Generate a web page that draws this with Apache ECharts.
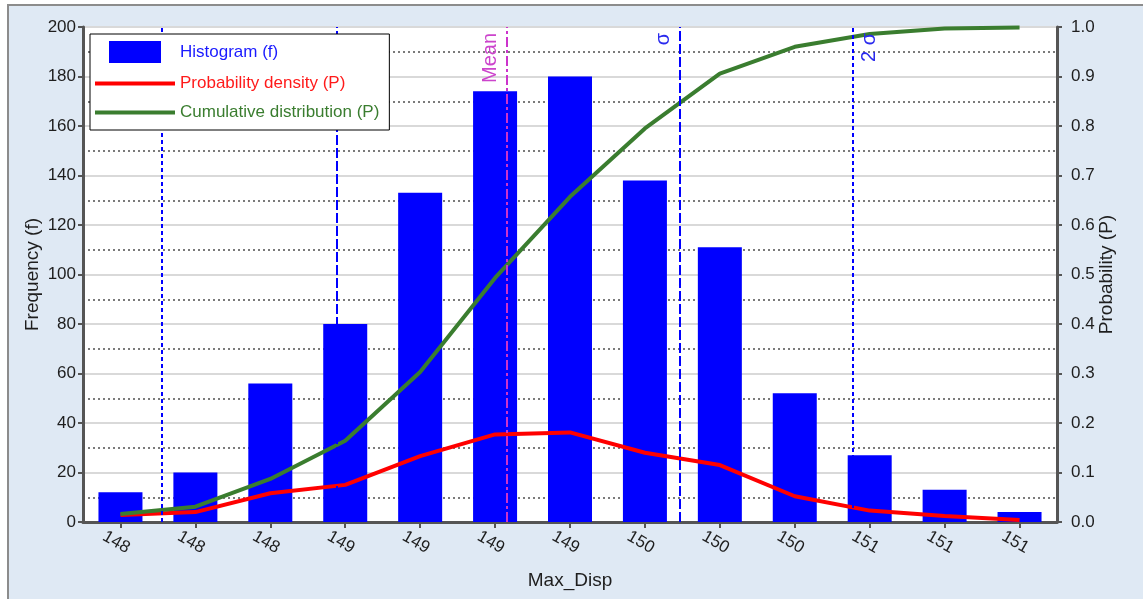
<!DOCTYPE html>
<html>
<head>
<meta charset="utf-8">
<title>Max_Disp distribution</title>
<script src="https://cdn.jsdelivr.net/npm/echarts@6/dist/echarts.min.js"></script>
<style>
  html, body { margin: 0; padding: 0; background: #ffffff; width: 1143px; height: 599px; overflow: hidden; }
  #panel { position: absolute; left: 7px; top: 4px; width: 1136px; height: 595px;
           background: #dfe9f4; border-left: 2px solid #8c8c8c; border-top: 2px solid #8c8c8c; box-sizing: border-box; }
  #chart { position: absolute; left: 0; top: 0; width: 1143px; height: 599px; }
</style>
</head>
<body>
<div id="panel"></div>
<div id="chart"></div>
<script>
// Bin labels along the bottom axis
const categories = ['148', '148', '148', '149', '149', '149', '149', '150', '150', '150', '151', '151', '151'];
// Histogram counts per bin
const frequency = [12, 20, 56, 80, 133, 174, 180, 138, 111, 52, 27, 13, 4];
// Probability density per bin
const density = [0.014, 0.02, 0.058, 0.075, 0.133, 0.177, 0.181, 0.14, 0.115, 0.052, 0.023, 0.012, 0.004];
// Cumulative distribution per bin
const cumulative = [0.016, 0.031, 0.087, 0.164, 0.303, 0.493, 0.657, 0.795, 0.906, 0.96, 0.986, 0.997, 0.999];
// Statistic markers in bin-index units: -2σ, -σ, mean, σ, 2σ
const markerNames = ['', '', 'Mean', 'σ', '2 σ'];
const markerPositions = [0.554, 2.89, 5.146, 7.455, 9.777];

const FONT = '"Liberation Sans", Arial, sans-serif';
const TXT = '#1e1e1e';

const markerStyles = [
  { color: '#0000ff', type: [4, 3] },
  { color: '#0000ff', type: [10, 3] },
  { color: '#cc33cc', type: [10, 3, 3, 3] },
  { color: '#0000ff', type: [10, 3] },
  { color: '#0000ff', type: [4, 3] }
];

const markLineData = markerPositions.map((v, i) => ({
  xAxis: v,
  lineStyle: { color: markerStyles[i].color, type: markerStyles[i].type, width: 2 },
  label: {
    show: markerNames[i] !== '',
    formatter: markerNames[i],
    position: i === 4 ? 'insideEndBottom' : 'insideEndTop',
    distance: 6,
    color: i === 2 ? '#cc44cc' : '#2a2aee',
    fontFamily: FONT,
    fontSize: 20
  }
}));

const chart = echarts.init(document.getElementById('chart'), null, { renderer: 'canvas' });

chart.setOption({
  animation: false,
  textStyle: { fontFamily: FONT },
  grid: {
    left: 83, top: 27, right: 86, bottom: 77,
    show: true, backgroundColor: '#ffffff', borderColor: '#7a7a7a', borderWidth: 1
  },
  legend: {
    orient: 'vertical',
    left: 90, top: 34,
    z: 20,
    backgroundColor: '#ffffff',
    borderColor: '#000000', borderWidth: 1, borderRadius: 0,
    padding: [7, 10, 9, 5],
    itemWidth: 80, itemHeight: 22, itemGap: 12,
    textStyle: { fontFamily: FONT, fontSize: 17 },
    data: [
      { name: 'Histogram (f)', icon: 'path://M0,0H52V22H0Z', textStyle: { color: '#1a1aff' } },
      { name: 'Probability density (P)', icon: 'path://M0,0H80V4H0Z', textStyle: { color: '#ff1a1a' } },
      { name: 'Cumulative distribution (P)', icon: 'path://M0,0H80V4H0Z', textStyle: { color: '#3a7d2f' } }
    ]
  },
  xAxis: [
    {
      type: 'category',
      data: categories,
      name: 'Max_Disp',
      nameLocation: 'middle',
      nameGap: 49,
      nameTextStyle: { color: TXT, fontSize: 19, fontFamily: FONT },
      axisLine: { show: true, onZero: false, lineStyle: { color: '#555555', width: 3 } },
      axisTick: { show: true, alignWithLabel: true, length: 6, lineStyle: { color: '#555555', width: 2 } },
      axisLabel: { rotate: -30, align: 'center', verticalAlign: 'top', color: TXT, fontSize: 17, fontFamily: FONT, margin: 13, interval: 0 },
      splitLine: { show: false }
    },
    {
      type: 'value',
      min: -0.5, max: 12.5,
      show: false,
      axisLine: { onZero: false },
      splitLine: { show: false }
    }
  ],
  yAxis: [
    {
      type: 'value',
      min: 0, max: 200, interval: 20,
      name: 'Frequency (f)',
      nameLocation: 'middle',
      nameGap: 41,
      nameMoveOverlap: false,
      nameTextStyle: { color: TXT, fontSize: 19, fontFamily: FONT },
      axisLine: { show: true, onZero: false, lineStyle: { color: '#555555', width: 3 } },
      axisTick: { show: true, length: 5, lineStyle: { color: '#555555', width: 2 } },
      axisLabel: { color: TXT, fontSize: 17, fontFamily: FONT, margin: 7 },
      splitLine: { show: true, lineStyle: { color: '#d9d9d9', width: 2 } },
      minorTick: { show: false, splitNumber: 2 },
      minorSplitLine: { show: true, lineStyle: { color: '#7a7a7a', width: 2, type: [2, 3] } }
    },
    {
      type: 'value',
      min: 0, max: 1, interval: 0.1,
      position: 'right',
      name: 'Probability (P)',
      nameLocation: 'middle',
      nameRotate: 90,
      nameGap: 40,
      nameMoveOverlap: false,
      nameTextStyle: { color: TXT, fontSize: 19, fontFamily: FONT },
      axisLine: { show: true, onZero: false, lineStyle: { color: '#555555', width: 3 } },
      axisTick: { show: true, length: 5, lineStyle: { color: '#555555', width: 2 } },
      axisLabel: { color: TXT, fontSize: 17, fontFamily: FONT, margin: 14, formatter: v => v.toFixed(1) },
      splitLine: { show: false }
    }
  ],
  series: [
    {
      name: 'Histogram (f)',
      type: 'bar',
      xAxisIndex: 0, yAxisIndex: 0,
      data: frequency,
      barWidth: 44,
      itemStyle: { color: '#0000ff' },
      z: 2
    },
    {
      name: 'markers',
      type: 'line',
      xAxisIndex: 1, yAxisIndex: 0,
      data: [],
      silent: true,
      z: 3,
      markLine: { symbol: 'none', silent: true, animation: false, data: markLineData }
    },
    {
      name: 'Probability density (P)',
      type: 'line',
      xAxisIndex: 0, yAxisIndex: 1,
      data: density,
      symbol: 'none',
      lineStyle: { color: '#ff0000', width: 4 },
      itemStyle: { color: '#ff0000' },
      z: 4
    },
    {
      name: 'Cumulative distribution (P)',
      type: 'line',
      xAxisIndex: 0, yAxisIndex: 1,
      data: cumulative,
      symbol: 'none',
      lineStyle: { color: '#3a7d2f', width: 4 },
      itemStyle: { color: '#3a7d2f' },
      z: 4
    }
  ]
});
</script>
</body>
</html>
